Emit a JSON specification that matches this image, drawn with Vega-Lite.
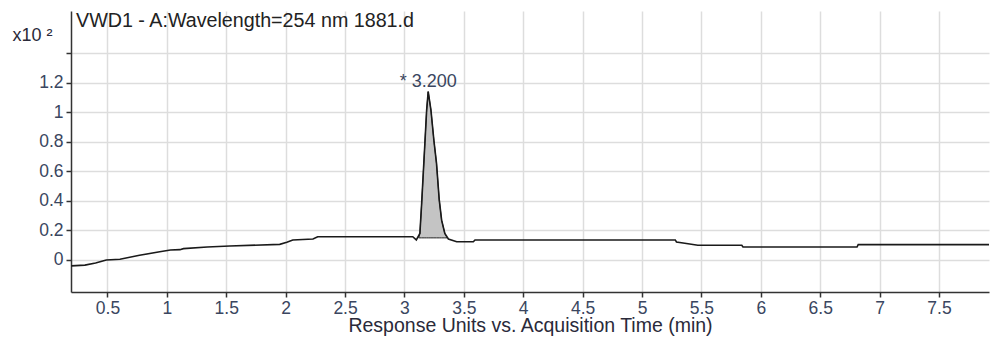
{
  "$schema": "https://vega.github.io/schema/vega-lite/v6.json",
  "autosize": "none",
  "width": 918,
  "height": 281,
  "padding": {"left": 71, "top": 11, "right": 1, "bottom": 45},
  "background": "white",
  "title": {
    "text": "VWD1 - A:Wavelength=254 nm 1881.d",
    "anchor": "start",
    "frame": "group",
    "orient": "top",
    "offset": -36,
    "baseline": "alphabetic",
    "dx": 5,
    "font": "Liberation Sans",
    "fontSize": 19.7,
    "fontWeight": "normal",
    "color": "#222222"
  },
  "datasets": {
    "trace": [
      {"time": 0.195, "signal": -0.04},
      {"time": 0.31, "signal": -0.035},
      {"time": 0.4, "signal": -0.02},
      {"time": 0.49, "signal": 0.0},
      {"time": 0.605, "signal": 0.005},
      {"time": 0.77, "signal": 0.032},
      {"time": 0.94, "signal": 0.056},
      {"time": 1.03, "signal": 0.068},
      {"time": 1.11, "signal": 0.07},
      {"time": 1.14, "signal": 0.077},
      {"time": 1.34, "signal": 0.088},
      {"time": 1.53, "signal": 0.095},
      {"time": 1.95, "signal": 0.106},
      {"time": 2.01, "signal": 0.12},
      {"time": 2.06, "signal": 0.136},
      {"time": 2.23, "signal": 0.142},
      {"time": 2.27, "signal": 0.158},
      {"time": 3.07, "signal": 0.158},
      {"time": 3.1, "signal": 0.136},
      {"time": 3.13, "signal": 0.18},
      {"time": 3.145, "signal": 0.384},
      {"time": 3.172, "signal": 0.79},
      {"time": 3.187, "signal": 1.017},
      {"time": 3.2, "signal": 1.141},
      {"time": 3.223, "signal": 1.017},
      {"time": 3.248, "signal": 0.81},
      {"time": 3.27, "signal": 0.655},
      {"time": 3.293, "signal": 0.407},
      {"time": 3.313, "signal": 0.27},
      {"time": 3.34, "signal": 0.18},
      {"time": 3.37, "signal": 0.142},
      {"time": 3.44, "signal": 0.124},
      {"time": 3.58, "signal": 0.124},
      {"time": 3.594, "signal": 0.136},
      {"time": 5.28, "signal": 0.136},
      {"time": 5.29, "signal": 0.122},
      {"time": 5.36, "signal": 0.113},
      {"time": 5.47, "signal": 0.1},
      {"time": 5.84, "signal": 0.1},
      {"time": 5.85, "signal": 0.088},
      {"time": 6.81, "signal": 0.088},
      {"time": 6.82, "signal": 0.104},
      {"time": 7.921, "signal": 0.104}
    ],
    "peak": [
      {"time": 3.12, "signal": 0.15, "base": 0.15},
      {"time": 3.13, "signal": 0.18, "base": 0.15},
      {"time": 3.145, "signal": 0.384, "base": 0.15},
      {"time": 3.172, "signal": 0.79, "base": 0.15},
      {"time": 3.187, "signal": 1.017, "base": 0.15},
      {"time": 3.2, "signal": 1.141, "base": 0.15},
      {"time": 3.223, "signal": 1.017, "base": 0.15},
      {"time": 3.248, "signal": 0.81, "base": 0.15},
      {"time": 3.27, "signal": 0.655, "base": 0.15},
      {"time": 3.293, "signal": 0.407, "base": 0.15},
      {"time": 3.313, "signal": 0.27, "base": 0.15},
      {"time": 3.34, "signal": 0.18, "base": 0.15},
      {"time": 3.36, "signal": 0.15, "base": 0.15}
    ],
    "peakLabel": [
      {"time": 3.2, "signal": 1.141, "label": "* 3.200"}
    ]
  },
  "layer": [
    {
      "data": {"name": "peak"},
      "mark": {"type": "area", "fill": "#c4c4c4", "stroke": "#222222", "strokeWidth": 1, "clip": true},
      "encoding": {
        "x": {"field": "time", "type": "quantitative"},
        "y": {"field": "signal", "type": "quantitative"},
        "y2": {"field": "base"}
      }
    },
    {
      "data": {"name": "trace"},
      "mark": {"type": "line", "color": "#1a1a1a", "strokeWidth": 1.6, "clip": true},
      "encoding": {
        "x": {
          "field": "time",
          "type": "quantitative",
          "scale": {"domain": [0.193, 7.921], "nice": false, "zero": false},
          "axis": {
            "title": "Response Units vs. Acquisition Time (min)",
            "titleFontSize": 19.5,
            "values": [0.5, 1, 1.5, 2, 2.5, 3, 3.5, 4, 4.5, 5, 5.5, 6, 6.5, 7, 7.5],
            "format": "~g",
            "labelPadding": 2,
            "titlePadding": 0
          }
        },
        "y": {
          "field": "signal",
          "type": "quantitative",
          "scale": {"domain": [-0.217, 1.688], "nice": false, "zero": false},
          "axis": {
            "title": "x10 ²",
            "titleAngle": 0,
            "titleAlign": "left",
            "titleBaseline": "alphabetic",
            "titleX": -59,
            "titleY": 29,
            "values": [0, 0.2, 0.4, 0.6, 0.8, 1, 1.2, 1.4],
            "format": "~g",
            "labelExpr": "datum.value > 1.3 ? '' : datum.label",
            "labelPadding": 3
          }
        }
      }
    },
    {
      "data": {"name": "peakLabel"},
      "mark": {
        "type": "text",
        "align": "center",
        "baseline": "alphabetic",
        "dy": -5,
        "font": "Liberation Sans",
        "fontSize": 18,
        "color": "#3a4660"
      },
      "encoding": {
        "x": {"field": "time", "type": "quantitative"},
        "y": {"field": "signal", "type": "quantitative"},
        "text": {"field": "label"}
      }
    }
  ],
  "config": {
    "view": {"stroke": null},
    "axis": {
      "labelFont": "Liberation Sans",
      "labelFontSize": 17.5,
      "labelColor": "#3a4660",
      "titleFont": "Liberation Sans",
      "titleFontSize": 18,
      "titleFontWeight": "normal",
      "titleColor": "#2a2a3a",
      "domainColor": "#333333",
      "domainWidth": 1.5,
      "tickColor": "#333333",
      "tickSize": 5,
      "tickWidth": 1.5,
      "gridColor": "#dddddd",
      "gridWidth": 1.5
    }
  }
}
